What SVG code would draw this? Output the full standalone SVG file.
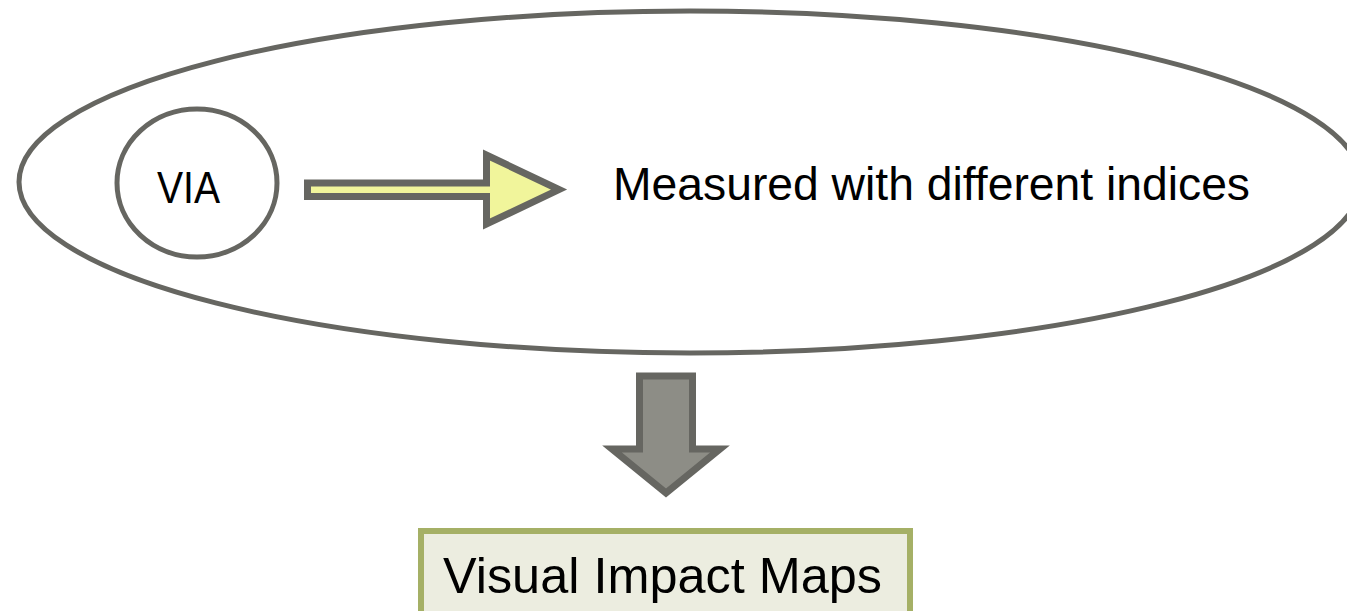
<svg xmlns="http://www.w3.org/2000/svg" width="1347" height="611" viewBox="0 0 1347 611">
  <style>
    .outline { fill: none; stroke: #666661; stroke-width: 5; }
    .arrow { stroke: #666661; stroke-width: 7; stroke-linejoin: miter; }
    .label { font-family: "Liberation Sans", Arial, sans-serif; fill: #000000; }
  </style>
  <rect x="0" y="0" width="1347" height="611" fill="#ffffff"/>

  <g id="scope">
    <ellipse class="outline" cx="690" cy="182" rx="671" ry="171"/>
  </g>

  <g id="via">
    <ellipse class="outline" cx="197" cy="183" rx="80" ry="74"/>
    <text class="label" x="157" y="203" font-size="44" textLength="63" lengthAdjust="spacingAndGlyphs">VIA</text>
  </g>

  <g id="indices">
    <text class="label" x="613" y="200" font-size="46" textLength="637" lengthAdjust="spacingAndGlyphs">Measured with different indices</text>
  </g>

  <g id="maps">
    <rect x="421" y="531" width="489" height="100" fill="#ecede0" stroke="#a5b066" stroke-width="6"/>
    <text class="label" x="443" y="593" font-size="50" textLength="439" lengthAdjust="spacingAndGlyphs">Visual Impact Maps</text>
  </g>

  <g id="connectors">
    <path class="arrow" fill="#f1f59b" d="M307.5,183 L486.5,183 L486.5,155 L559,189.6 L486.5,224 L486.5,196.5 L307.5,196.5 Z"/>
    <path class="arrow" fill="#8d8d86" d="M639.5,376 L692.5,376 L692.5,449 L720,449 L666,493 L612,449 L639.5,449 Z"/>
  </g>
</svg>
